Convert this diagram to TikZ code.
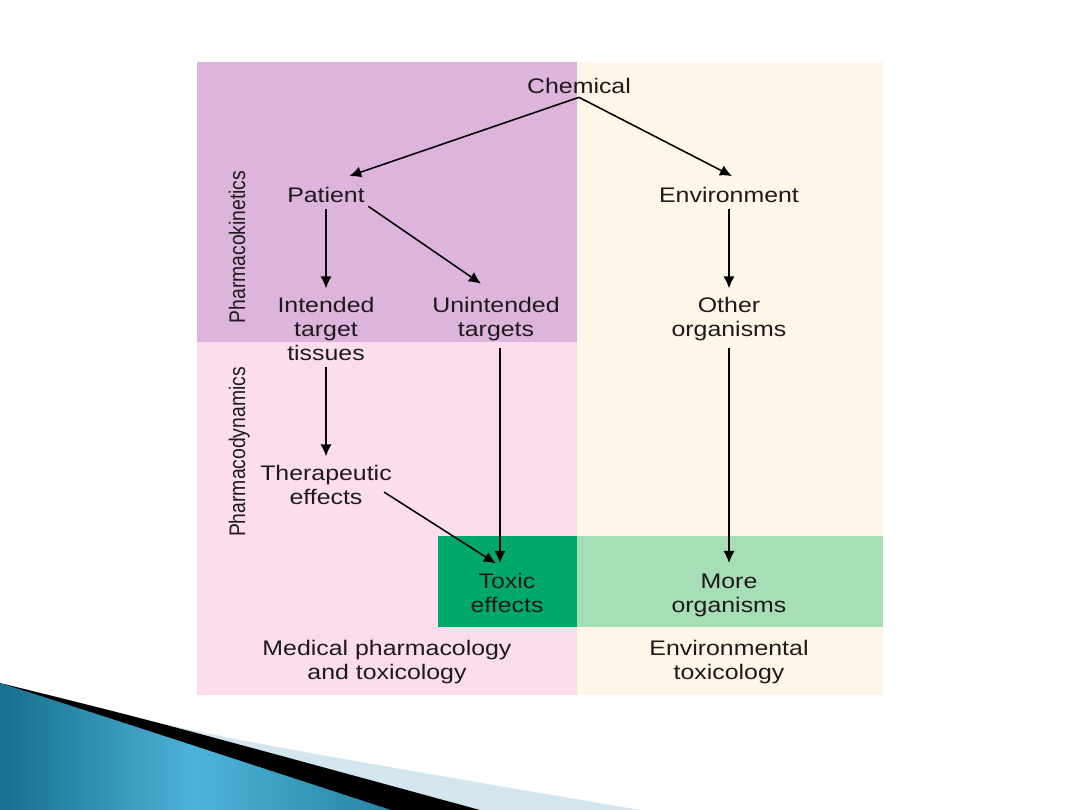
\documentclass[tikz,border=0pt]{standalone}
\usepackage{fontspec}
\setmainfont{Liberation Sans}[FakeStretch=1.18]
\newfontfamily\sidefont{Liberation Sans}[FakeStretch=0.86]
\usetikzlibrary{arrows.meta}

\definecolor{kinetics}{HTML}{DCB4DC}
\definecolor{dynamics}{HTML}{FCDDEE}
\definecolor{enviro}{HTML}{FEF6E8}
\definecolor{toxic}{HTML}{00A86B}
\definecolor{moreorg}{HTML}{A6DEB6}
\definecolor{ink}{HTML}{1E1A1B}
\definecolor{swooshdark}{HTML}{176E8D}
\definecolor{swooshlight}{HTML}{4DB4D8}
\definecolor{swooshpale}{HTML}{D3E6EF}

\begin{document}
\begin{tikzpicture}[x=0.025cm, y=-0.025cm, line width=1.1pt,
    >={Latex[length=3mm, width=2.8mm]},
    every node/.style={text=ink, font=\fontsize{15}{17}\selectfont, align=center, inner sep=2pt},
    side/.style={rotate=90, anchor=base, font=\sidefont\fontsize{16}{18}\selectfont},
    link/.style={->, shorten <=2pt, shorten >=4pt}]

    \useasboundingbox (0,0) rectangle (1080,810);

    % Swoosh
    \fill[swooshpale] (0,683) .. controls (200,735) .. (640,810) -- (0,810) -- cycle;
    \fill[black] (0,683) .. controls (150,720) .. (480,810) -- (0,810) -- cycle;
    \shade[left color=swooshdark, right color=swooshdark!70!swooshlight, middle color=swooshlight]
        (0,683) .. controls (100,715) .. (391,810) -- (0,810) -- cycle;

    % Panels
    \fill[kinetics] (197,62) rectangle (577,342);
    \fill[dynamics] (197,342) rectangle (577,695);
    \fill[enviro] (577,62) rectangle (883,695);
    \fill[toxic] (438,536) rectangle (577,627);
    \fill[moreorg] (577,536) rectangle (883,627);

    % Nodes
    \node (Chemical) at (579,86) {Chemical};
    \node (Patient) at (326,195) {Patient};
    \node (Environment) at (729,195) {Environment};
    \node (Intended) [anchor=north] at (326,294) {Intended\\target\\tissues};
    \node (Unintended) [anchor=north] at (496,294) {Unintended\\targets};
    \node (Other) [anchor=north] at (729,294) {Other\\organisms};
    \node (Therapeutic) [anchor=north] at (326,462) {Therapeutic\\effects};
    \node (Toxic) [anchor=north] at (507,570) {Toxic\\effects};
    \node (More) [anchor=north] at (729,570) {More\\organisms};
    \node (Medical) [anchor=north] at (387,637) {Medical pharmacology\\and toxicology};
    \node (EnvTox) [anchor=north] at (729,637) {Environmental\\toxicology};

    % Side labels
    \node (Kinetics) [side] at (245,247) {Pharmacokinetics};
    \node (Dynamics) [side] at (245,452) {Pharmacodynamics};

    % Arrows
    \draw[->] (Chemical.south) -- ([xshift=0.58cm, yshift=0.19cm]Patient.north);
    \draw[->] (Chemical.south) -- ([xshift=0.075cm, yshift=0.19cm]Environment.north);
    \draw[link] (Patient.south) -- (Intended.north);
    \draw[->, shorten >=13pt] (Patient.south east) -- (Unintended.north);
    \draw[link] (Environment.south) -- (Other.north);
    \draw[link] (Intended.south) -- (Therapeutic.north);
    \draw[->, shorten <=2pt, shorten >=5pt] ([xshift=0.1cm]Unintended.south) -- ([xshift=0.1cm]Unintended.south |- Toxic.north);
    \draw[->] ([xshift=-0.28cm, yshift=-0.17cm]Therapeutic.east) -- ([xshift=-0.28cm, yshift=0.165cm]Toxic.north);
    \draw[->, shorten <=2pt, shorten >=5pt] (Other.south) -- (More.north);

\end{tikzpicture}
\end{document}
